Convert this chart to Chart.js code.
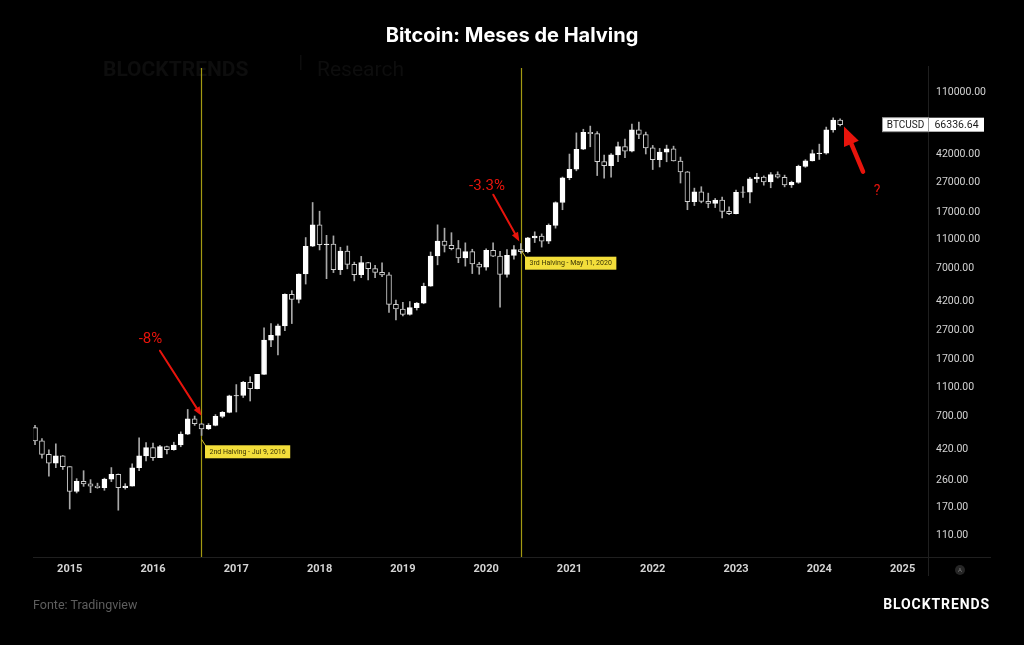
<!DOCTYPE html>
<html><head><meta charset="utf-8">
<script src="https://cdn.jsdelivr.net/npm/chart.js@4.4.1/dist/chart.umd.min.js"></script>
<style>
html,body{margin:0;padding:0;background:#000;}
#wrap{position:relative;width:1024px;height:645px;background:#000;overflow:hidden;}
canvas{position:absolute;left:0;top:0;}
.foot{position:absolute;top:598px;line-height:14px;font-family:Roboto,"Noto Sans",sans-serif;white-space:nowrap;}
</style></head><body>
<div id="wrap"><canvas id="c" width="1024" height="645"></canvas>
<div class="foot" style="left:33px;color:#5e5e5e;font-size:12.5px;">Fonte: Tradingview</div>
<div class="foot" style="right:34px;top:597px;color:#fff;font-size:14px;font-weight:700;letter-spacing:0.9px;">BLOCKTRENDS</div>
</div>
<script>
// Monthly BTCUSD candles, first month = Aug 2014 (index 0), last = Apr 2024
const firstYear = 2014, firstMonth = 8;
const open = [
 589,478,387,338,378,
 320,217,254,244,236,230,263,284,230,236,314,378,
 430,368,437,416,448,531,673,624,575,609,700,745,
 964,970,1190,1080,1350,2300,2480,2875,4700,4340,6460,9950,
 13900,10200,10300,6900,9240,7500,6390,7730,7030,6630,6370,4020,
 3740,3440,3820,4100,5330,8550,10800,10080,9590,8290,9150,7550,
 7190,9350,8540,6410,8630,9450,9140,11350,11650,10780,13800,19700,
 28990,33100,45240,58800,57700,37300,35040,41460,47100,43820,61300,56950,
 46200,38480,43190,45540,37650,31800,19940,23300,20050,19430,20490,17170,
 16540,23130,23150,28470,29250,27200,30470,29230,25940,26970,34640,37720,
 42280,42580,61180,71300];
const high = [
 610,495,415,457,380,
 320,265,300,261,247,267,315,285,245,334,502,466,
 462,446,440,468,550,780,704,626,626,720,755,975,
 1150,1210,1300,1350,2790,2980,2950,4740,4980,6470,11400,19700,
 17200,11800,11700,9800,10000,7770,8500,7760,7400,7700,6600,4300,
 4150,4200,4140,5600,9100,13900,13200,12300,10900,10500,9500,7750,
 9580,10500,9190,9460,10060,10380,11440,12470,12070,14100,19900,29300,
 41950,58350,61780,64900,59500,41300,42300,50500,52900,67000,69000,59100,
 47990,45800,48200,47450,40000,31980,24650,25200,22800,20980,21480,18390,
 23950,25250,29190,31000,29830,31440,31800,30200,27490,35280,38420,44700,
 48970,63900,73800,72700];
const low = [
 450,365,275,315,306,
 165,212,235,213,228,221,253,162,225,236,300,350,
 352,367,390,413,436,527,608,520,570,604,685,740,
 750,940,890,1075,1350,2080,1830,2670,2980,4110,5520,9900,
 9400,6000,6600,6400,7000,5800,6100,5880,6100,6200,3550,3150,
 3360,3400,3680,4060,5330,7450,9100,9400,7700,7300,6500,6430,
 6850,8450,3850,6150,8130,8900,8980,10550,9830,10380,13200,17600,
 28100,32300,44950,47000,30000,28800,29300,37300,39600,43300,53250,42000,
 32950,34300,37200,37600,26700,17600,18780,19600,18150,18200,15500,16300,
 16500,21350,19550,26950,25810,24800,28860,25160,24900,26560,34100,37630,
 38550,41880,59000,65000];
const close = [
 478,387,338,378,320,
 217,254,244,236,230,263,284,230,236,314,378,430,
 368,437,416,448,531,673,624,575,609,700,745,964,
 970,1190,1080,1350,2300,2480,2875,4700,4340,6460,9950,13900,
 10200,10300,6900,9240,7500,6390,7730,7030,6630,6370,4020,3740,
 3440,3820,4100,5330,8550,10800,10080,9590,8290,9150,7550,7190,
 9350,8540,6410,8630,9450,9140,11350,11650,10780,13800,19700,28990,
 33100,45240,58800,57700,37300,35040,41460,47100,43820,61300,56950,46200,
 38480,43190,45540,37650,31800,19940,23300,20050,19430,20490,17170,16540,
 23130,23150,28470,29250,27200,30470,29230,25940,26970,34640,37720,42280,
 42580,61180,71300,66336.64];

const yearLabels = [2015,2016,2017,2018,2019,2020,2021,2022,2023,2024,2025];
const priceTicks = [110,170,260,420,700,1100,1700,2700,4200,7000,11000,17000,27000,42000,110000];
const symbol = 'BTCUSD';
const lastPrice = 66336.64;
// halving markers (month-index position on chart, label, label anchor price)
const halvingPos = [23.9, 69.95];
const halvingText = ['2nd Halving - Jul 9, 2016','3rd Halving - May 11, 2020'];
const halvingLabelPrice = [403, 7642];
// red annotations: text, text position, arrow start, arrow tip (month index, price)
const notes = [
 {text:'-8%', tx:16.64, ty:2317, ax:18.0, ay:1951, bx:23.99, by:708, w:2, head:[9,7], size:15},
 {text:'-3.3%', tx:65.12, ty:25300, ax:66.03, ay:22250, bx:69.78, by:10740, w:2, head:[9,7], size:15},
 {text:'', tx:0, ty:0, ax:119.3, ay:31900, bx:116.56, by:64600, w:4.5, head:[19,16], size:0},
 {text:'?', tx:121.31, ty:23300, ax:null, size:14}
];

const monthIndexOfYear = y => (y - firstYear) * 12 - (firstMonth - 1);
const idx = open.map((_, i) => i);

const bodies = idx.map(i => ({x: i, y: [Math.min(open[i], close[i]), Math.max(open[i], close[i]) * (open[i] === close[i] ? 1.002 : 1)]}));
const wicks = idx.map(i => ({x: i, y: [low[i], high[i]]}));
const isUp = i => close[i] >= open[i];

function arrow(ctx, x1, y1, x2, y2, w, hl, hw) {
  const ang = Math.atan2(y2 - y1, x2 - x1);
  const bx = x2 - Math.cos(ang) * hl, by = y2 - Math.sin(ang) * hl;
  ctx.lineWidth = w; ctx.lineCap = 'round';
  ctx.beginPath(); ctx.moveTo(x1, y1); ctx.lineTo(bx, by); ctx.stroke();
  ctx.beginPath();
  ctx.moveTo(x2, y2);
  ctx.lineTo(bx + Math.sin(ang) * hw / 2, by - Math.cos(ang) * hw / 2);
  ctx.lineTo(bx - Math.sin(ang) * hw / 2, by + Math.cos(ang) * hw / 2);
  ctx.closePath(); ctx.fill();
}

const overlay = {
  id: 'overlay',
  beforeDatasetsDraw(chart) {
    const {ctx, chartArea: a, scales: {x}} = chart;
    ctx.save();
    // faint watermark
    ctx.fillStyle = '#0d0d0d';
    ctx.font = 'bold 21px Roboto, sans-serif';
    ctx.textBaseline = 'alphabetic'; ctx.textAlign = 'left';
    ctx.fillText('BLOCKTRENDS', 103, 76);
    ctx.fillRect(300, 55, 1.5, 15);
    ctx.font = '21px Roboto, sans-serif';
    ctx.fillText('Research', 317, 76);
    // halving lines
    ctx.strokeStyle = '#a39a12'; ctx.lineWidth = 1.2;
    halvingPos.forEach(h => {
      const px = Math.round(x.getPixelForValue(h)) + 0.5;
      ctx.beginPath(); ctx.moveTo(px, a.top + 2); ctx.lineTo(px, a.bottom); ctx.stroke();
    });
    ctx.restore();
  },
  afterDraw(chart) {
    const {ctx, chartArea: a, scales: {x, y}} = chart;
    ctx.save();
    // axis line extension and separators
    ctx.strokeStyle = '#1f1f1f'; ctx.lineWidth = 1;
    ctx.beginPath(); ctx.moveTo(a.right, a.bottom + 0.5); ctx.lineTo(991, a.bottom + 0.5); ctx.stroke();
    ctx.beginPath(); ctx.moveTo(a.right + 0.5, a.bottom); ctx.lineTo(a.right + 0.5, 576); ctx.stroke();
    // autoscale button
    ctx.fillStyle = '#262626';
    ctx.beginPath(); ctx.arc(960, 570, 5, 0, Math.PI * 2); ctx.fill();
    ctx.fillStyle = '#777'; ctx.font = '6px Roboto, sans-serif'; ctx.textAlign = 'center'; ctx.textBaseline = 'middle';
    ctx.fillText('A', 960, 570.5);

    // halving labels
    halvingPos.forEach((h, k) => {
      const px = Math.round(x.getPixelForValue(h)) + 0.5;
      const cy = y.getPixelForValue(halvingLabelPrice[k]);
      ctx.font = '7px Roboto, sans-serif';
      const tw = ctx.measureText(halvingText[k]).width;
      const left = px + 3.5, top = cy - 6.5, bw = tw + 9, bh = 13;
      ctx.strokeStyle = '#d9c52f'; ctx.lineWidth = 1;
      ctx.beginPath(); ctx.moveTo(px, top - 6); ctx.lineTo(left + 1, top + 1); ctx.stroke();
      ctx.fillStyle = '#f3de3a';
      ctx.fillRect(left, top, bw, bh);
      ctx.fillStyle = '#3a3405'; ctx.textAlign = 'left'; ctx.textBaseline = 'middle';
      ctx.fillText(halvingText[k], left + 4.5, cy + 0.5);
    });

    // red annotations
    ctx.fillStyle = '#e8140c'; ctx.strokeStyle = '#e8140c';
    notes.forEach(n => {
      if (n.ax !== null && n.ax !== undefined) {
        arrow(ctx, x.getPixelForValue(n.ax), y.getPixelForValue(n.ay), x.getPixelForValue(n.bx), y.getPixelForValue(n.by), n.w, n.head[0], n.head[1]);
      }
      if (n.text) {
        ctx.font = n.size + 'px Roboto, sans-serif'; ctx.textAlign = 'center'; ctx.textBaseline = 'middle';
        ctx.fillText(n.text, x.getPixelForValue(n.tx), y.getPixelForValue(n.ty));
      }
    });

    // last price tag
    const py = y.getPixelForValue(lastPrice);
    ctx.font = '10px Roboto, sans-serif'; ctx.textBaseline = 'middle'; ctx.textAlign = 'center';
    ctx.fillStyle = '#ffffff';
    ctx.fillRect(882.5, py - 7, 46, 14);
    ctx.strokeStyle = '#9a9a9a'; ctx.lineWidth = 1;
    ctx.strokeRect(882.5, py - 7, 46, 14);
    ctx.fillStyle = '#ffffff';
    ctx.fillRect(a.right + 1, py - 7, 55, 14);
    ctx.fillStyle = '#1a1a1a';
    ctx.fillText(symbol, 905.5, py + 0.5);
    ctx.font = '10.5px Roboto, sans-serif';
    ctx.fillText(lastPrice.toFixed(2), a.right + 28.5, py + 0.5);
    ctx.restore();
  }
};

new Chart(document.getElementById('c'), {
  type: 'bar',
  data: {
    datasets: [
      {
        label: 'body', data: bodies, grouped: false, order: 0, xAxisID: 'x', yAxisID: 'y',
        barThickness: 5, borderWidth: 1, borderSkipped: false,
        backgroundColor: ctx => isUp(ctx.dataIndex) ? '#ffffff' : '#000000',
        borderColor: ctx => isUp(ctx.dataIndex) ? '#ffffff' : '#cfcfcf'
      },
      {
        label: 'wick', data: wicks, grouped: false, order: 1, xAxisID: 'x', yAxisID: 'y',
        barThickness: 1, borderWidth: 0, backgroundColor: '#a8a8a8'
      }
    ]
  },
  options: {
    responsive: false, animation: false, devicePixelRatio: 1,
    layout: {padding: {left: 0, right: 0, top: 0, bottom: 68}},
    plugins: {
      legend: {display: false}, tooltip: {enabled: false},
      title: {display: true, text: 'Bitcoin: Meses de Halving', color: '#ffffff',
        font: {family: 'Inter', size: 20, weight: 'bold', lineHeight: 1.2}, padding: {top: 24, bottom: 18}}
    },
    scales: {
      x: {
        type: 'linear', min: -0.29, max: 128.66, offset: false,
        grid: {display: false, drawTicks: false},
        border: {display: true, color: '#1f1f1f'},
        afterBuildTicks: s => { s.ticks = yearLabels.map(yv => ({value: monthIndexOfYear(yv)})); },
        ticks: {
          autoSkip: false, maxRotation: 0, padding: 6, color: '#d4d4d4',
          font: {family: 'Roboto', size: 11, weight: 'bold'},
          callback: v => String(firstYear + Math.round((v + firstMonth - 1) / 12))
        },
        afterFit: s => { s.height = 20; }
      },
      y: {
        type: 'logarithmic', position: 'right', min: 78.05, max: 165740,
        grid: {display: false, drawTicks: false},
        border: {display: true, color: '#1f1f1f'},
        afterBuildTicks: s => { s.ticks = priceTicks.map(v => ({value: v})); },
        ticks: {
          autoSkip: false, padding: 8, color: '#d4d4d4',
          font: {family: 'Roboto', size: 10.5},
          callback: v => Number(v).toFixed(2)
        },
        afterFit: s => { s.width = 96; }
      },
      yLeft: {
        type: 'linear', position: 'left', display: true, axis: 'y',
        grid: {display: false, drawTicks: false}, border: {display: false},
        ticks: {display: false},
        afterFit: s => { s.width = 33; }
      }
    }
  },
  plugins: [overlay]
});
</script>
</body></html>
